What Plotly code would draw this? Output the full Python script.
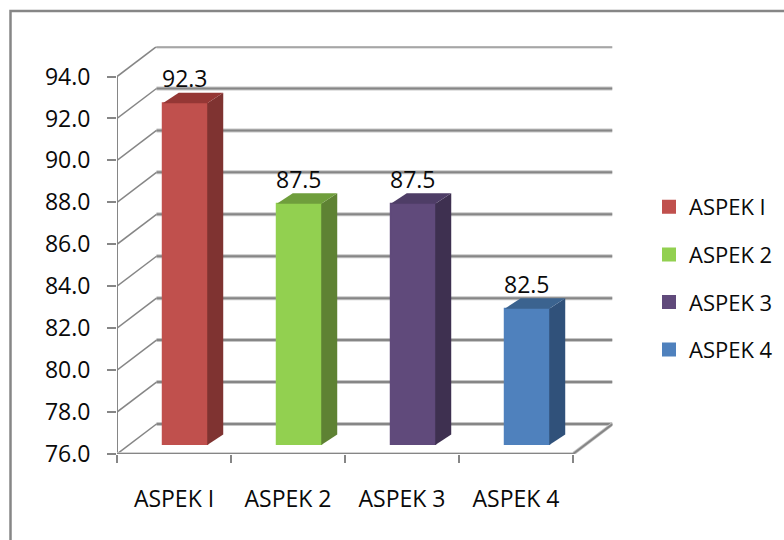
import plotly.graph_objects as go

# Chart content
categories = ["ASPEK I", "ASPEK 2", "ASPEK 3", "ASPEK 4"]
values = [92.3, 87.5, 87.5, 82.5]
y_ticks = [76, 78, 80, 82, 84, 86, 88, 90, 92, 94]

# Face colours of each 3-D column: front, side, top
front_colors = ["#C0504D", "#92D050", "#604A7B", "#4F81BD"]
side_colors = ["#7F3331", "#5E8233", "#3E3050", "#30517A"]
top_colors = ["#953735", "#6F9E3C", "#4E3D66", "#3B638F"]

W, H = 784, 540
FONT = "Open Sans"
GRID = "#868686"
GRID_SOFT = "#C6C6C6"
TEXT = "#0A0A0A"

# Pixel layout of the oblique projection
LEFT, FRONT_BOTTOM = 117, 454
CAT_PX, UNIT_PX = 114.0, 20.97
WALL_DX, WALL_DY = 39.5, 30.0      # floor depth
COL_DX, COL_DY = 11.0, 9.0         # column front plane inside the floor
SIDE_DX, SIDE_DY = 16.0, 10.5      # column depth
BAR_WIDTH = 0.39

n = len(categories)
y_min, y_max = y_ticks[0], y_ticks[-1]
wall_x = WALL_DX / CAT_PX
wall_y = WALL_DY / UNIT_PX
side_x = SIDE_DX / CAT_PX
side_y = SIDE_DY / UNIT_PX


def px_x(p):
    return p / W


def px_y(p):
    return 1 - p / H


fig = go.Figure()


def wire(xs, ys, width=2.0, color=GRID):
    fig.add_trace(go.Scatter(x=xs, y=ys, mode="lines", showlegend=False, hoverinfo="skip",
                             line=dict(color=color, width=width), cliponaxis=False,
                             xaxis="x", yaxis="y"))


# Back wall, side wall and floor; the wide pale stroke gives the lines their soft edge
for t in y_ticks:
    wire([wall_x, n + wall_x], [t + wall_y, t + wall_y], 4, GRID_SOFT)
    wire([wall_x, n + wall_x], [t + wall_y, t + wall_y], 2)
    wire([0, wall_x], [t, t + wall_y], 1.5)
wire([0, 0], [y_min, y_max], 2)
wire([0, n, n + wall_x], [y_min, y_min, y_min + wall_y], 3.5, GRID_SOFT)
wire([0, n, n + wall_x], [y_min, y_min, y_min + wall_y], 2)

# Columns: native bars for the front faces, polygons for side and top
for i, (cat, val) in enumerate(zip(categories, values)):
    xc = i + 0.5
    x0, x1 = xc - BAR_WIDTH / 2, xc + BAR_WIDTH / 2
    fig.add_trace(go.Bar(x=[xc], y=[val], width=BAR_WIDTH, name=cat, legendgroup=cat,
                         marker=dict(color=front_colors[i],
                                     line=dict(color=front_colors[i], width=2)),
                         xaxis="x2", yaxis="y2"))
    fig.add_trace(go.Scatter(x=[x1, x1 + side_x, x1 + side_x, x1, x1],
                             y=[y_min, y_min + side_y, val + side_y, val, y_min],
                             mode="lines", fill="toself", fillcolor=side_colors[i],
                             line=dict(width=0), showlegend=False, hoverinfo="skip",
                             xaxis="x2", yaxis="y2"))
    fig.add_trace(go.Scatter(x=[x0, x0 + side_x, x1 + side_x, x1, x0],
                             y=[val, val + side_y, val + side_y, val, val],
                             mode="lines", fill="toself", fillcolor=top_colors[i],
                             line=dict(width=0), showlegend=False, hoverinfo="skip",
                             xaxis="x2", yaxis="y2"))
    fig.add_annotation(x=xc, y=val, xref="x2", yref="y2", text=f"{val:.1f}", showarrow=False,
                       yshift=25, font=dict(family=FONT, size=23, color=TEXT))

right_px = LEFT + n * CAT_PX + WALL_DX
top_px = FRONT_BOTTOM - (y_max - y_min) * UNIT_PX - WALL_DY
col_left = LEFT + COL_DX
col_bottom = FRONT_BOTTOM - COL_DY

fig.update_layout(
    width=W, height=H, margin=dict(l=0, r=0, t=0, b=0, autoexpand=False),
    paper_bgcolor="white", plot_bgcolor="rgba(0,0,0,0)",
    barmode="overlay",
    font=dict(family=FONT, size=23, color=TEXT),
    xaxis=dict(domain=[px_x(LEFT), px_x(right_px)], range=[0, n + wall_x],
               tickmode="array", tickvals=[i + 0.5 for i in range(n)], ticktext=categories,
               ticks="", showgrid=False, zeroline=False, showline=False,
               ticklabelstandoff=29, anchor="y",
               minor=dict(tickmode="array", tickvals=list(range(n + 1)), ticks="outside",
                          ticklen=8, tickwidth=2, tickcolor=GRID, showgrid=False)),
    yaxis=dict(domain=[px_y(FRONT_BOTTOM), px_y(top_px)], range=[y_min, y_max + wall_y],
               tickmode="array", tickvals=y_ticks, tickformat=".1f",
               ticks="outside", ticklen=9, tickwidth=2, tickcolor=GRID,
               showgrid=False, zeroline=False, showline=False,
               ticklabelstandoff=12, anchor="x"),
    xaxis2=dict(domain=[px_x(col_left), px_x(col_left + n * CAT_PX)], range=[0, n],
                visible=False, anchor="y2"),
    yaxis2=dict(domain=[px_y(col_bottom), px_y(col_bottom - (y_max - y_min) * UNIT_PX)],
                range=[y_min, y_max], visible=False, anchor="x2"),
    legend=dict(x=px_x(649), y=px_y(186), xanchor="left", yanchor="top",
                font=dict(family=FONT, size=22, color=TEXT),
                tracegroupgap=16, traceorder="grouped", bgcolor="rgba(0,0,0,0)"),
    # Chart-area border, running off the page at the right and bottom
    shapes=[dict(type="rect", xref="paper", yref="paper",
                 x0=px_x(10.5), x1=px_x(W + 20), y0=px_y(H + 20), y1=px_y(11),
                 line=dict(color=GRID, width=2.5), fillcolor="rgba(0,0,0,0)")],
)

fig.write_html("out.html")
